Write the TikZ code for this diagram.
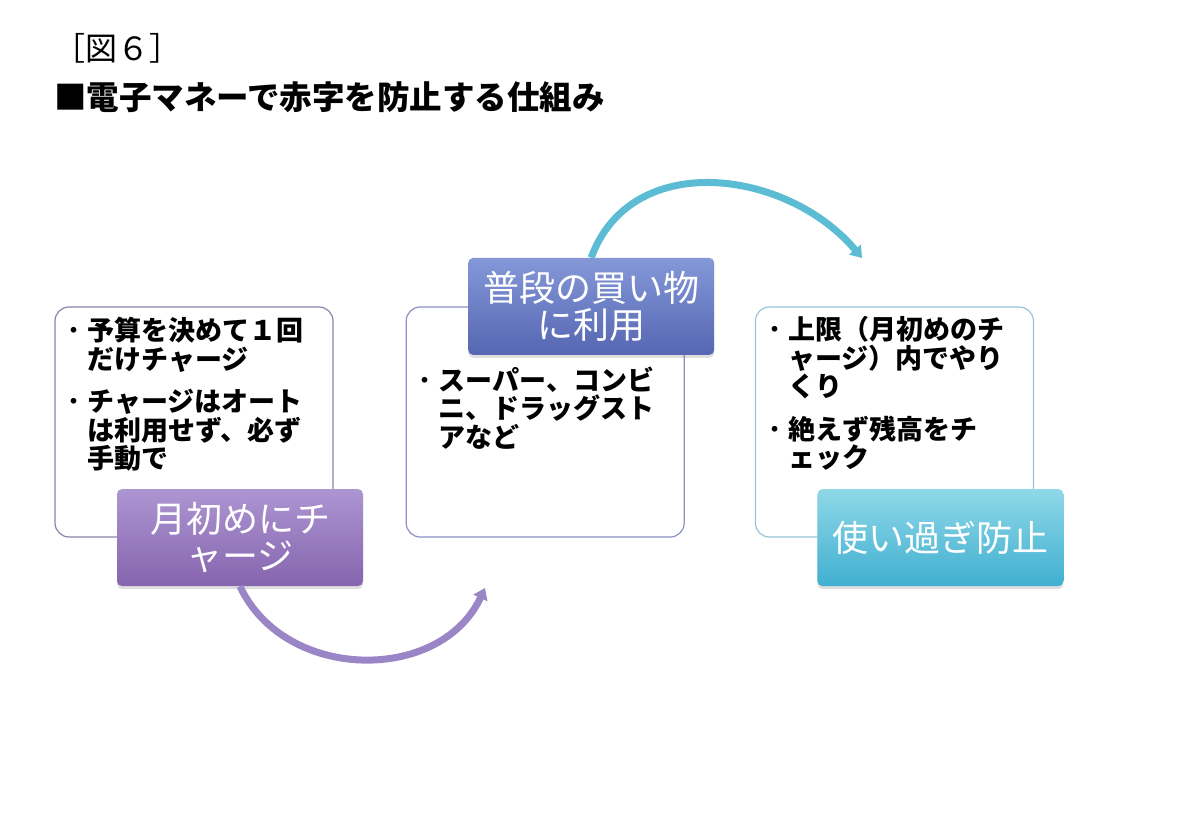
\documentclass[tikz,border=0pt]{standalone}
\usepackage{fontspec}
\setmainfont{Noto Sans CJK JP}
\usepackage{xcolor}
\definecolor{violettop}{HTML}{AD95D2}
\definecolor{violetbot}{HTML}{8565AE}
\definecolor{indigotop}{HTML}{8498D8}
\definecolor{indigobot}{HTML}{5666B2}
\definecolor{cyantop}{HTML}{8FD8E8}
\definecolor{cyanbot}{HTML}{40AFD0}
\definecolor{violetline}{HTML}{8E82A8}
\definecolor{indigoline}{HTML}{8C90C8}
\definecolor{cyanline}{HTML}{98C6D6}
\definecolor{violetarc}{HTML}{9A86C6}
\definecolor{cyanarc}{HTML}{5CBCD4}
\usetikzlibrary{arrows.meta,positioning,shadows}
\newcommand{\bul}{{\mdseries ・}}
\newcommand{\ind}{\hphantom{・}}

\begin{document}
\begin{tikzpicture}[x=1pt, y=1pt,
  infobox/.style={draw, line width=1.2pt, fill=white, rounded corners=14pt,
    minimum width=278pt, minimum height=230pt, inner sep=0pt},
  infotext/.style={anchor=north west, inner sep=0pt, align=left,
    font=\fontsize{27}{28.5}\selectfont\bfseries},
  tagbox/.style={rounded corners=5pt, minimum width=246pt, minimum height=97pt,
    inner sep=0pt, align=center, text=white,
    font=\fontsize{36}{37}\selectfont,
    drop shadow={shadow xshift=0pt, shadow yshift=-3pt, opacity=0.25}},
  arc/.style={line width=7pt, -{Triangle[width=15pt, length=11pt]}}]

  \useasboundingbox (0,0) rectangle (1200,-829);

  % heading
  \node[anchor=west, inner sep=0pt, font=\fontsize{32}{34}\selectfont] (fig) at (53,-48) {［図６］};
  \node[anchor=west, inner sep=0pt, font=\fontsize{32.5}{34}\selectfont\bfseries] (ttl) at (54,-97) {■電子マネーで赤字を防止する仕組み};

  % boxes
  \node[infobox, draw=violetline] (b1) at (194,-422) {};
  \node[infobox, draw=indigoline, right=72pt of b1] (b2) {};
  \node[infobox, draw=cyanline, right=70pt of b2] (b3) {};

  \node[infotext] (t1) at ([shift={(6,-11)}]b1.north west)
    {\bul 予算を決めて１回\\\ind だけチャージ\\[14pt]
     \bul チャージはオート\\\ind は利用せず、必ず\\\ind 手動で};
  \node[infotext] (t2) at ([shift={(6,-60)}]b2.north west)
    {\bul スーパー、コンビ\\\ind ニ、ドラッグスト\\\ind アなど};
  \node[infotext] (t3) at ([shift={(6,-10)}]b3.north west)
    {\bul 上限（月初めのチ\\\ind ャージ）内でやり\\\ind くり\\[14pt]
     \bul 絶えず残高をチ\\\ind ェック};

  % tags
  \node[tagbox, top color=violettop, bottom color=violetbot] (lab1) at ([xshift=46pt]b1.south) {月初めにチ\\ャージ};
  \node[tagbox, top color=indigotop, bottom color=indigobot] (lab2) at ([xshift=46pt]b2.north) {普段の買い物\\に利用};
  \node[tagbox, top color=cyantop, bottom color=cyanbot] (lab3) at ([xshift=46pt]b3.south) {使い過ぎ防止};

  % arcs
  \coordinate (p1) at (485,-588);
  \coordinate (p2) at (862,-258);
  \draw[arc, violetarc] (lab1.south) to[out=-65, in=-115, looseness=1.1] (p1);
  \draw[arc, cyanarc] (lab2.north) to[out=70, in=130, looseness=1.1] (p2);

\end{tikzpicture}
\end{document}
